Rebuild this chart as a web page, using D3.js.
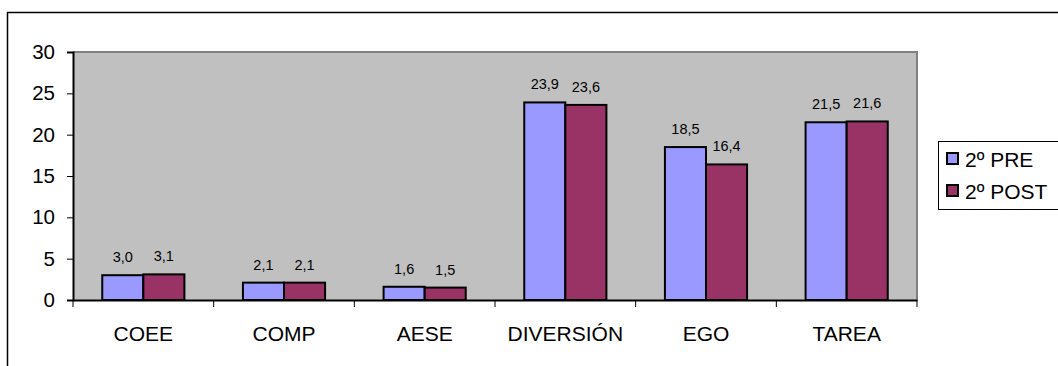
<!DOCTYPE html>
<html>
<head>
<meta charset="utf-8">
<script src="https://cdn.jsdelivr.net/npm/d3@7"></script>
<style>
  html, body { margin: 0; padding: 0; background: #fff; }
  svg { display: block; font-family: "Liberation Sans", Arial, sans-serif; }
</style>
</head>
<body>
<svg id="chart" width="1058" height="366"></svg>
<script>
const categories = ["COEE", "COMP", "AESE", "DIVERSIÓN", "EGO", "TAREA"];
const seriesNames = ["2º PRE", "2º POST"];
const preValues = [3.0, 2.1, 1.6, 23.9, 18.5, 21.5];
const postValues = [3.1, 2.1, 1.5, 23.6, 16.4, 21.6];
const yTicks = [0, 5, 10, 15, 20, 25, 30];
const colors = ["#9999FF", "#993366"];

const svg = d3.select("#chart");
const plot = { left: 73, top: 52, right: 917, bottom: 300 };

// outer chart frame
svg.append("rect").attr("x", 7.5).attr("y", 12.5).attr("width", 1100).attr("height", 400)
  .attr("fill", "#fff").attr("stroke", "#000").attr("stroke-width", 1.5);

const x0 = d3.scaleBand().domain(categories).range([plot.left, plot.right]).paddingInner(0).paddingOuter(0);
const y = d3.scaleLinear().domain([0, 30]).range([plot.bottom, plot.top]);
const bw = x0.bandwidth() * 0.292;
const x1 = d3.scaleBand().domain(seriesNames).range([x0.bandwidth() / 2 - bw, x0.bandwidth() / 2 + bw]);

// plot background
svg.append("rect").attr("x", plot.left).attr("y", plot.top)
  .attr("width", plot.right - plot.left).attr("height", plot.bottom - plot.top)
  .attr("fill", "#C0C0C0");
// gray border top and right
svg.append("path")
  .attr("d", `M${plot.left},${plot.top}H${plot.right}V${plot.bottom}`)
  .attr("fill", "none").attr("stroke", "#808080").attr("stroke-width", 2);

const data = categories.map((c, i) => ({ cat: c, vals: [preValues[i], postValues[i]] }));

const groups = svg.append("g").selectAll("g").data(data).join("g")
  .attr("transform", d => `translate(${x0(d.cat)},0)`);

groups.selectAll("rect").data(d => d.vals.map((v, j) => ({ v, s: seriesNames[j], j })))
  .join("rect")
  .attr("x", d => x1(d.s))
  .attr("y", d => y(d.v))
  .attr("width", x1.bandwidth())
  .attr("height", d => y(0) - y(d.v))
  .attr("fill", d => colors[d.j])
  .attr("stroke", "#000").attr("stroke-width", 2);

groups.selectAll("text").data(d => d.vals.map((v, j) => ({ v, s: seriesNames[j] })))
  .join("text")
  .attr("x", d => x1(d.s) + x1.bandwidth() / 2)
  .attr("y", d => y(d.v) - 13)
  .attr("text-anchor", "middle")
  .attr("font-size", 14.5)
  .attr("fill", "#000")
  .text(d => d.v.toFixed(1).replace(".", ","));

// Y axis
const yAxis = d3.axisLeft(y).tickValues(yTicks).tickSize(6).tickPadding(12).tickFormat(d3.format("d"));
const gy = svg.append("g").attr("transform", `translate(${plot.left},0)`).call(yAxis);
gy.select(".domain").attr("stroke", "#000").attr("stroke-width", 2);
gy.selectAll(".tick line").attr("stroke", "#000").attr("stroke-width", 1);
gy.selectAll(".tick text").attr("font-size", 20.5).attr("fill", "#000")
  .attr("font-family", "'Liberation Sans', Arial, sans-serif");

// X axis
const xAxis = d3.axisBottom(x0).tickSize(0).tickPadding(26);
const gx = svg.append("g").attr("transform", `translate(0,${plot.bottom})`).call(xAxis);
gx.select(".domain").attr("stroke", "#000").attr("stroke-width", 2);
gx.selectAll(".tick text").attr("font-size", 21).attr("fill", "#000")
  .attr("font-family", "'Liberation Sans', Arial, sans-serif");
// boundary ticks
const bounds = categories.map(c => x0(c)).concat([plot.right]);
svg.append("g").selectAll("line").data(bounds).join("line")
  .attr("x1", d => d).attr("x2", d => d)
  .attr("y1", plot.bottom).attr("y2", plot.bottom + 7)
  .attr("stroke", "#000").attr("stroke-width", 1);

// Legend
const lg = svg.append("g");
lg.append("rect").attr("x", 938.5).attr("y", 141.5).attr("width", 200).attr("height", 68)
  .attr("fill", "#fff").attr("stroke", "#000").attr("stroke-width", 1);
const items = lg.selectAll("g.item").data(seriesNames).join("g").attr("class", "item")
  .attr("transform", (d, i) => `translate(0,${i * 32})`);
items.append("rect").attr("x", 947).attr("y", 153).attr("width", 11).attr("height", 11)
  .attr("fill", (d, i) => colors[i]).attr("stroke", "#000").attr("stroke-width", 2);
items.append("text").attr("x", 965).attr("y", 166.5).attr("font-size", 21).attr("fill", "#000")
  .text(d => d);
</script>
</body>
</html>
